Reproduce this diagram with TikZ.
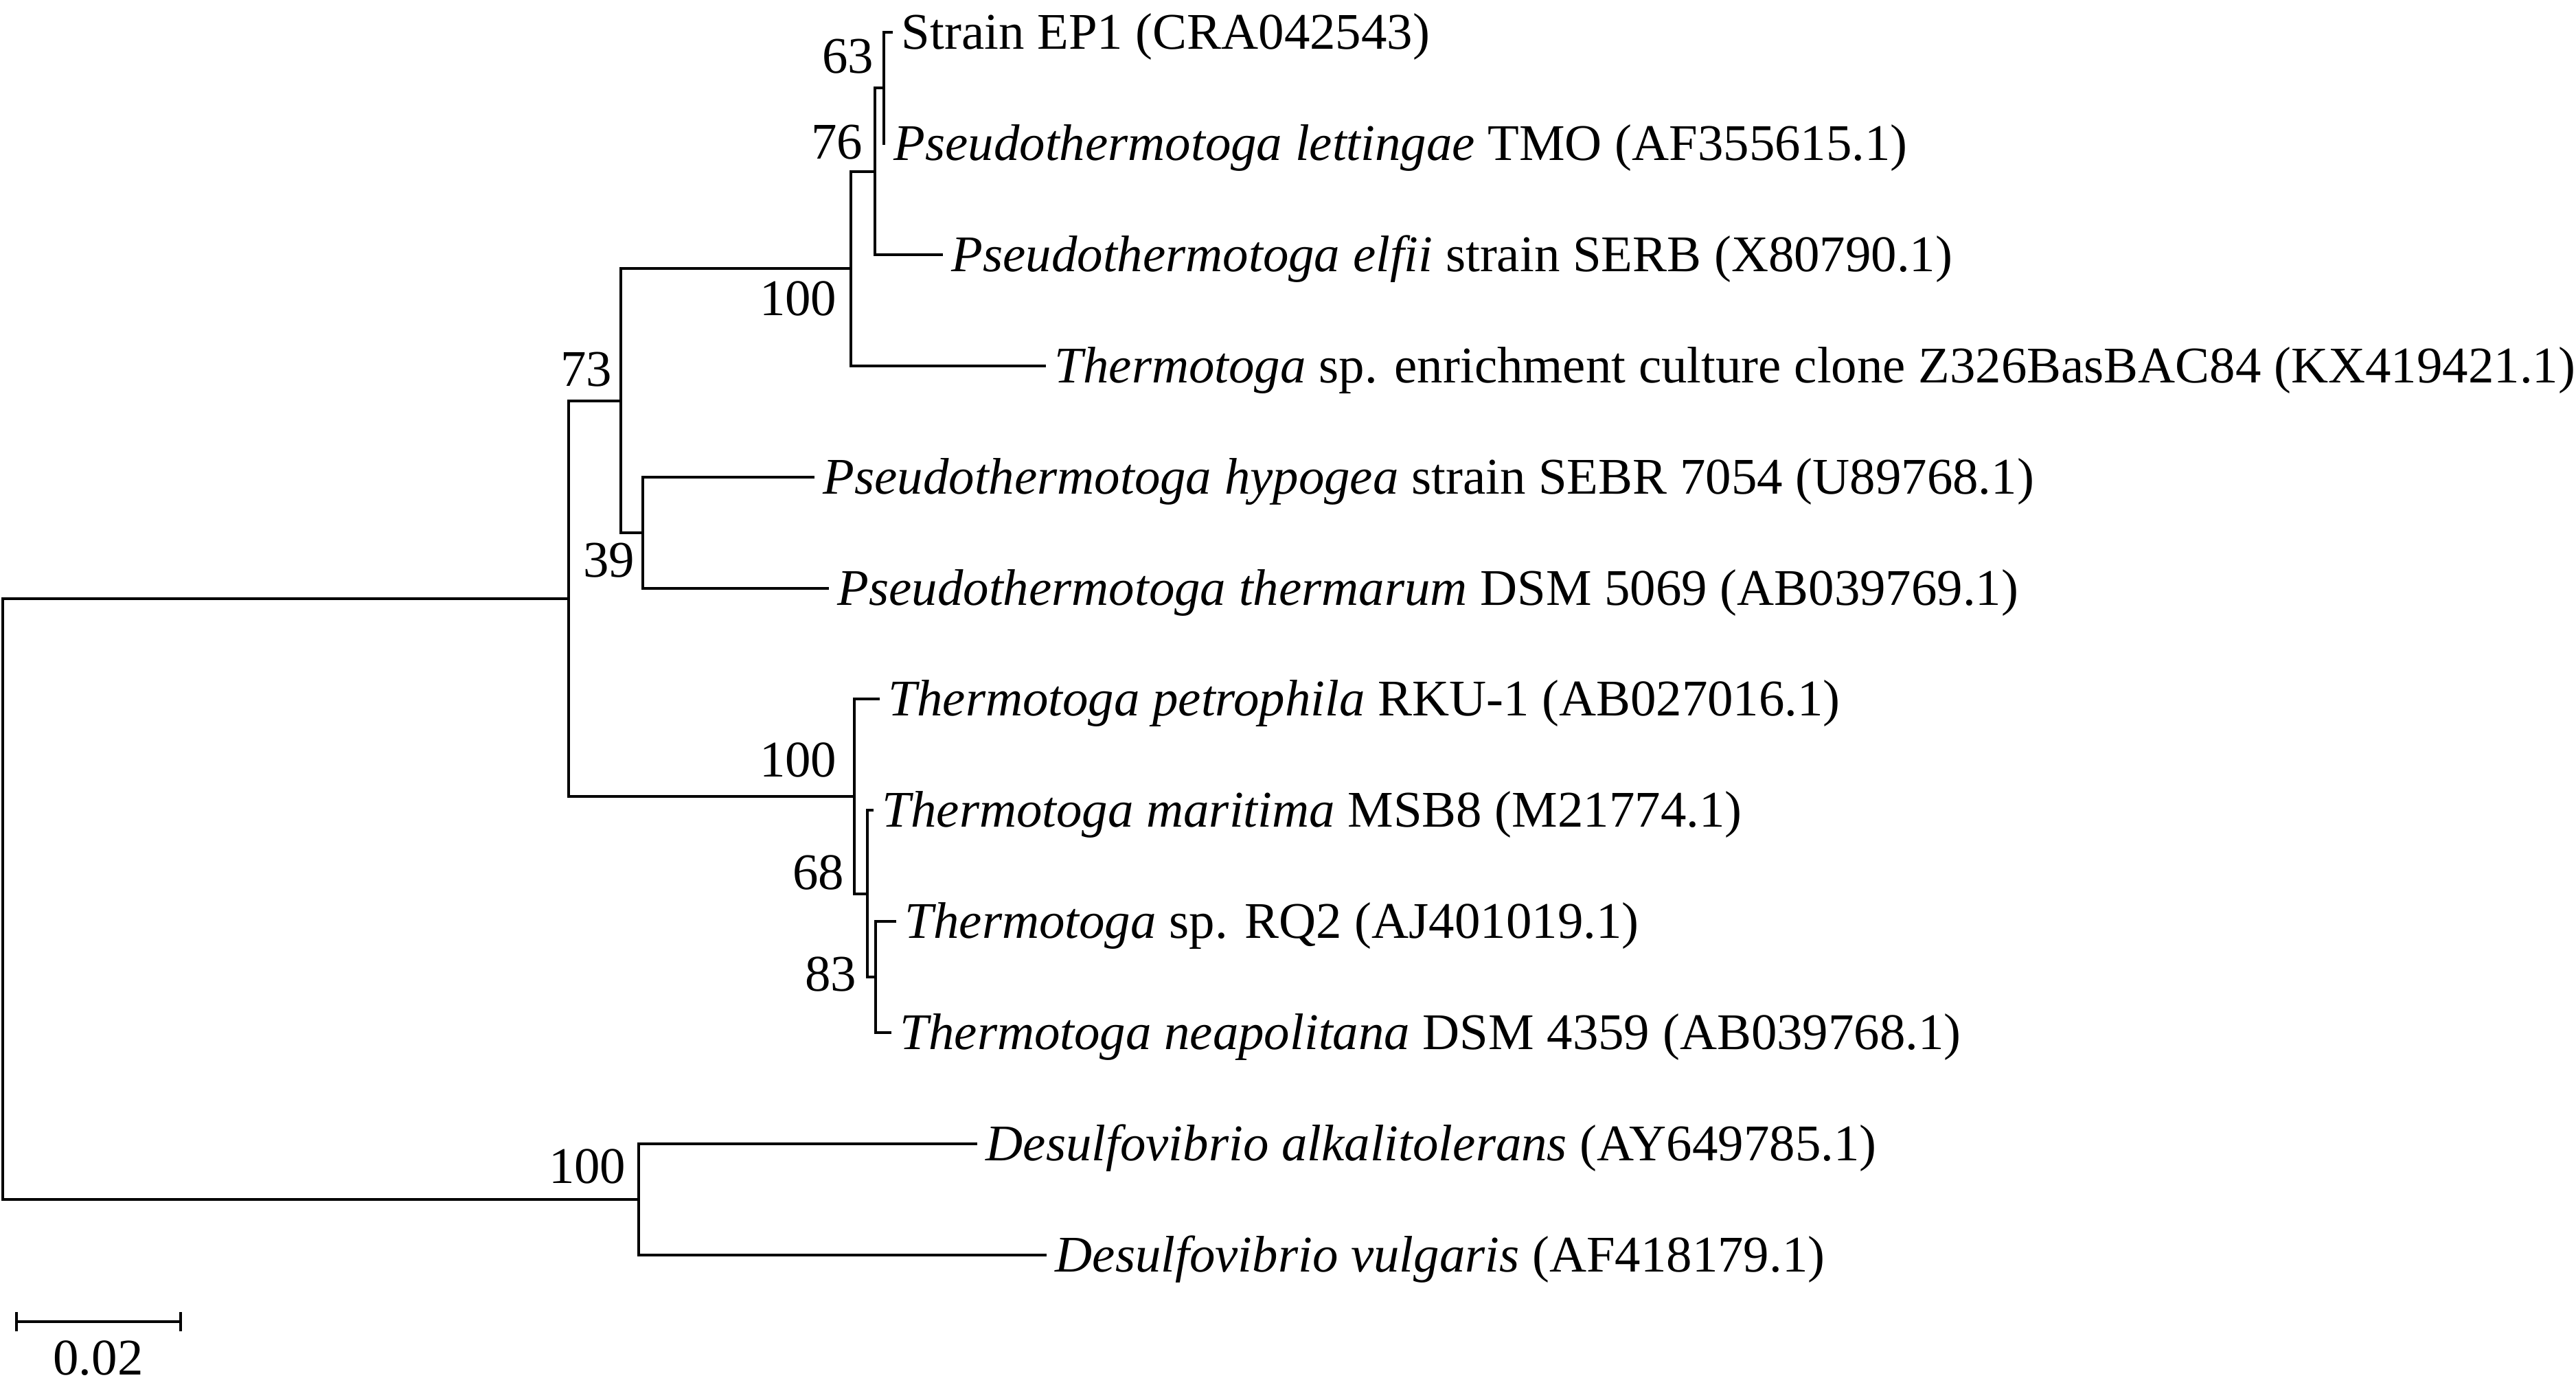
\documentclass[tikz,border=0pt]{standalone}
\usepackage{fontspec}
\setmainfont{Liberation Serif}
\usetikzlibrary{arrows.meta,positioning}

\begin{document}
\begin{tikzpicture}[x=1cm,y=-1cm,
    leaf/.style={anchor=west,inner xsep=0.12cm,inner ysep=0pt,text height=0.49cm,text depth=0pt,font=\fontsize{21.3}{25}\selectfont},
    boot/.style={anchor=east,inner sep=0pt,text height=0.49cm,text depth=0pt,font=\fontsize{21.3}{25}\selectfont}]
    \useasboundingbox (0,0) rectangle (37.51,20.25);

    % leaves
    \node[leaf] (EP1)  at (13.00,0.47)  {Strain EP1 (CRA042543)};
    \node[leaf] (Plet) at (12.89,2.09)  {\textit{Pseudothermotoga lettingae} TMO (AF355615.1)};
    \node[leaf] (Pelf) at (13.73,3.71)  {\textit{Pseudothermotoga elfii} strain SERB (X80790.1)};
    \node[leaf] (Tenr) at (15.23,5.33)  {\textit{Thermotoga} sp. enrichment culture clone Z326BasBAC84 (KX419421.1)};
    \node[leaf] (Phyp) at (11.86,6.95)  {\textit{Pseudothermotoga hypogea} strain SEBR 7054 (U89768.1)};
    \node[leaf] (Pthe) at (12.07,8.57)  {\textit{Pseudothermotoga thermarum} DSM 5069 (AB039769.1)};
    \node[leaf] (Tpet) at (12.81,10.18) {\textit{Thermotoga petrophila} RKU-1 (AB027016.1)};
    \node[leaf] (Tmar) at (12.72,11.80) {\textit{Thermotoga maritima} MSB8 (M21774.1)};
    \node[leaf] (TRQ2) at (13.05,13.42) {\textit{Thermotoga} sp. RQ2 (AJ401019.1)};
    \node[leaf] (Tnea) at (12.98,15.04) {\textit{Thermotoga neapolitana} DSM 4359 (AB039768.1)};
    \node[leaf] (Dalk) at (14.23,16.66) {\textit{Desulfovibrio alkalitolerans} (AY649785.1)};
    \node[leaf] (Dvul) at (15.24,18.28) {\textit{Desulfovibrio vulgaris} (AF418179.1)};

    % inner nodes
    \coordinate (N63)   at (12.87,1.28);
    \coordinate (N76)   at (12.74,2.495);
    \coordinate (N100a) at (12.39,3.91);
    \coordinate (N39)   at (9.36,7.76);
    \coordinate (N73)   at (9.04,5.835);
    \coordinate (N83)   at (12.75,14.23);
    \coordinate (N68)   at (12.63,13.015);
    \coordinate (N100b) at (12.44,11.60);
    \coordinate (NA)    at (8.28,8.72);
    \coordinate (N100c) at (9.30,17.47);
    \coordinate (Root)  at (0.04,13.09);

    % bootstrap values
    \node[boot] (B63)   at (12.73,0.82)  {63};
    \node[boot] (B76)   at (12.57,2.07)  {76};
    \node[boot] (B100a) at (12.19,4.35)  {100};
    \node[boot] (B73)   at (8.92,5.38)   {73};
    \node[boot] (B39)   at (9.25,8.16)   {39};
    \node[boot] (B100b) at (12.19,11.07) {100};
    \node[boot] (B68)   at (12.30,12.71) {68};
    \node[boot] (B83)   at (12.48,14.19) {83};
    \node[boot] (B100c) at (9.12,16.99)  {100};

    \tikzset{branch/.style={draw,line width=1.15pt}}
    \path[branch] (EP1) -| (N63) |- (Plet);
    \path[branch] (N63) -| (N76) |- (Pelf);
    \path[branch] (N76) -| (N100a) |- (Tenr);
    \path[branch] (Phyp) -| (N39) |- (Pthe);
    \path[branch] (N100a) -| (N73) |- (N39);
    \path[branch] (TRQ2) -| (N83) |- (Tnea);
    \path[branch] (Tmar) -| (N68) |- (N83);
    \path[branch] (Tpet) -| (N100b) |- (N68);
    \path[branch] (N73) -| (NA) |- (N100b);
    \path[branch] (Dalk) -| (N100c) |- (Dvul);
    \path[branch] (NA) -| (Root) |- (N100c);

    % scale bar
    \coordinate (SbL) at (0.22,19.25);
    \coordinate (SbR) at (2.65,19.25);
    \draw[line width=1.15pt,{Bar[width=0.28cm]}-{Bar[width=0.28cm]}] (SbL) -- (SbR);
    \node[boot,anchor=center] (SbText) at (1.43,19.78) {0.02};

\end{tikzpicture}
\end{document}
